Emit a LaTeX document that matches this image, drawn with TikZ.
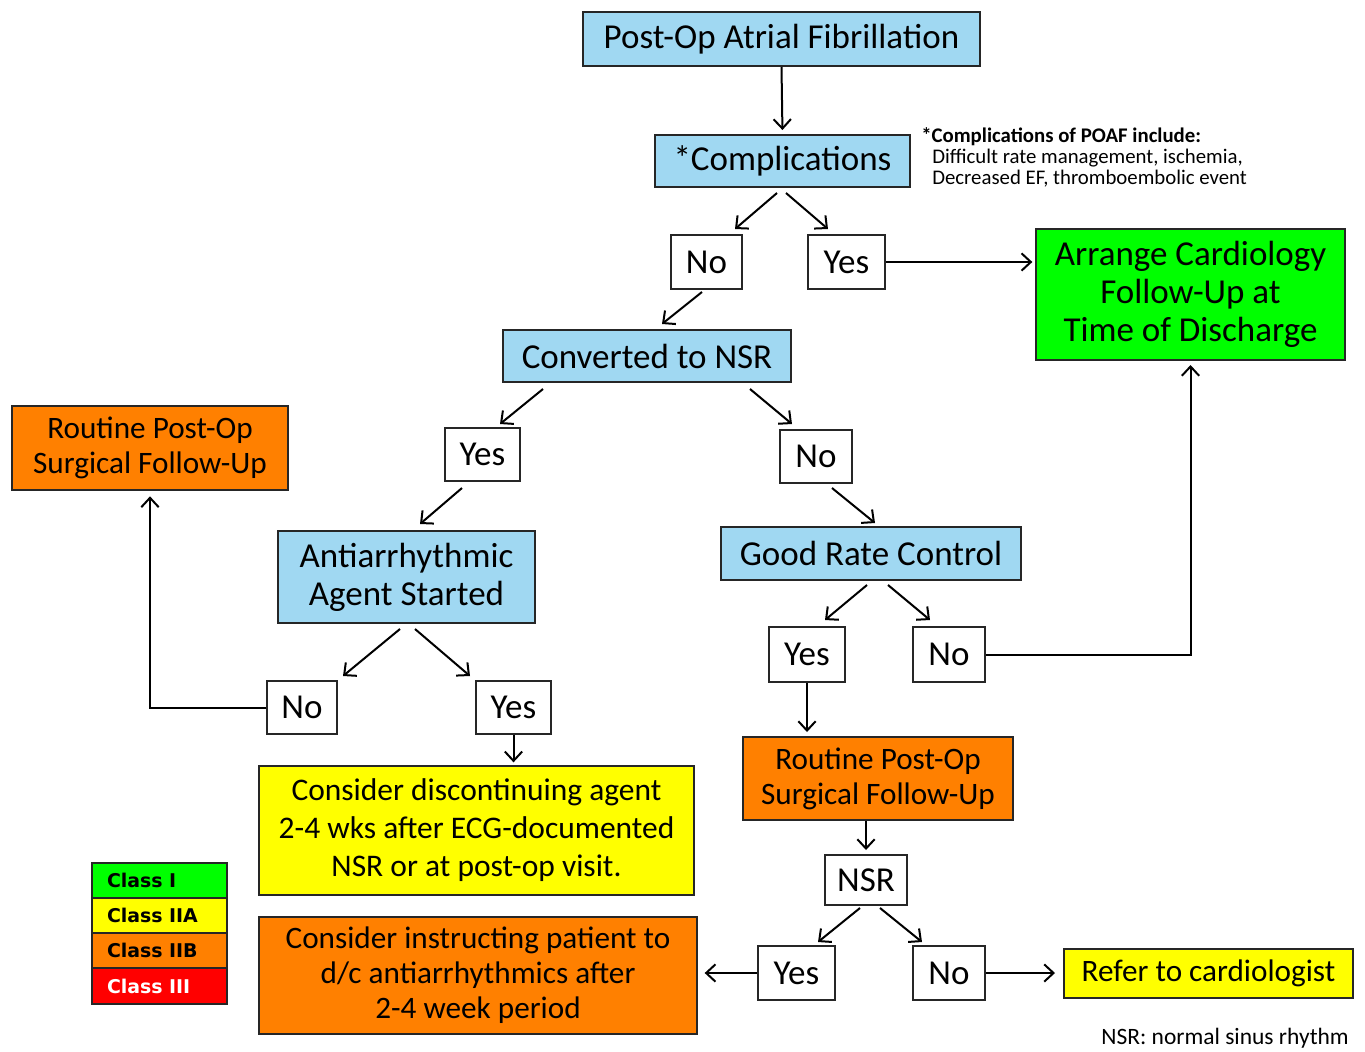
\documentclass[tikz,border=0pt]{standalone}
\usepackage{fontspec}
\setmainfont{Carlito}
\newfontfamily\legendfont{DejaVu Sans}
\usetikzlibrary{arrows.meta,calc}
\definecolor{boxblue}{RGB}{160,216,242}
\definecolor{boxgreen}{RGB}{0,255,0}
\definecolor{boxyellow}{RGB}{255,255,0}
\definecolor{boxorange}{RGB}{255,128,0}
\definecolor{boxred}{RGB}{255,0,0}
\newcommand\SizeL{\fontsize{26.25}{28.5}\selectfont}
\newcommand\SizeM{\fontsize{23.4}{26.25}\selectfont}
\newcommand\SizeY{\fontsize{23.6}{28.5}\selectfont}
\newcommand\SizeS{\fontsize{15.6}{16.2}\selectfont}
\newcommand\SizeF{\fontsize{17.6}{20}\selectfont}
\newcommand\SizeLeg{\fontsize{14.2}{15}\selectfont}
\begin{document}
\begin{tikzpicture}[x=0.75pt,y=-0.75pt,
  box/.style={draw=black!85, line width=1.5pt, inner sep=0pt, align=center},
  wh/.style 2 args={minimum width=#1*0.75pt, minimum height=#2*0.75pt},
  qbox/.style={box, fill=boxblue, font=\SizeL},
  ans/.style={box, fill=white, font=\SizeL},
  legrow/.style={draw=black!85, line width=1.5pt, inner xsep=11.25pt, inner ysep=0pt,
    minimum width=101.25pt, minimum height=26.4pt, text width=78.75pt, align=left,
    font=\legendfont\bfseries\SizeLeg},
  link/.style={line width=1.5pt},
  arr/.style={line width=1.5pt, -{Straight Barb[length=7pt,width=13pt,line width=1.5pt]}}
]
\useasboundingbox (0,0) rectangle (1365,1051);
\fill[white] (0,0) rectangle (1365,1051);

% decision boxes
\node[qbox, wh={397}{54}] (title) at (781.5,39) {Post-Op Atrial Fibrillation};
\node[qbox, wh={255}{52}] (comp) at (782.5,161) {*Complications};
\node[qbox, wh={288}{52}] (conv) at (647,356) {Converted to NSR};
\node[qbox, wh={257}{92}] (anti) at (406.5,577) {Antiarrhythmic\\Agent Started};
\node[qbox, wh={300}{53}] (grc) at (871,553.5) {Good Rate Control};

% answer boxes
\node[ans, wh={71}{54}] (no1) at (706.5,262) {No};
\node[ans, wh={77}{54}] (yes1) at (846.5,262) {Yes};
\node[ans, wh={75}{53}] (yes2) at (482.5,454.5) {Yes};
\node[ans, wh={72}{53}] (no2) at (816,456.5) {No};
\node[ans, wh={76}{55}] (yes3) at (807,654.5) {Yes};
\node[ans, wh={72}{55}] (no3) at (949,654.5) {No};
\node[ans, wh={70}{53}] (no4) at (302,707.5) {No};
\node[ans, wh={75}{53}] (yes4) at (513.5,707.5) {Yes};
\node[ans, wh={82}{50}] (nsr) at (866,880) {NSR};
\node[ans, wh={77}{54}] (yes5) at (796.5,973) {Yes};
\node[ans, wh={72}{54}] (no5) at (949,973) {No};

% outcome boxes
\node[box, fill=boxgreen, font=\SizeL, wh={309}{131}] (arrange) at (1190.5,294.5)
  {\rule{0pt}{4pt}Arrange Cardiology\\Follow-Up at\\Time of Discharge};
\node[box, fill=boxorange, font=\SizeM, wh={276}{84}] (routL) at (150,448)
  {Routine Post-Op\\Surgical Follow-Up};
\node[box, fill=boxorange, font=\SizeM, wh={270}{83}] (routR) at (878,778.5)
  {Routine Post-Op\\Surgical Follow-Up};
\node[box, fill=boxyellow, font=\SizeY, wh={435}{129}] (discont) at (476.5,830.5)
  {Consider discontinuing agent\\2-4 wks after ECG-documented\\NSR or at post-op visit.};
\node[box, fill=boxorange, font=\SizeM, wh={438}{117}] (instruct) at (478,975.5)
  {Consider instructing patient to\\d/c antiarrhythmics after\\2-4 week period};
\node[box, fill=boxyellow, font=\SizeM, wh={289}{49}] (refer) at (1208.5,973.5)
  {Refer to cardiologist};

% complications note
\node[anchor=west, inner sep=0pt, font=\SizeS\bfseries] (note1) at (921,137)
  {*Complications of POAF include:};
\node[anchor=west, inner sep=0pt, font=\SizeS] (note2) at (932,158)
  {Difficult rate management, ischemia,};
\node[anchor=west, inner sep=0pt, font=\SizeS] (note3) at (932,179)
  {Decreased EF, thromboembolic event};

% legend
\node[legrow, fill=boxgreen] (cls1) at (159.5,880.5) {Class I};
\node[legrow, fill=boxyellow] (cls2a) at (159.5,915.5) {Class IIA};
\node[legrow, fill=boxorange] (cls2b) at (159.5,950.5) {Class IIB};
\node[legrow, fill=boxred, text=white] (cls3) at (159.5,986) {Class III};

% footnote
\node[anchor=east, inner sep=0pt, font=\SizeF] (foot) at (1349,1038)
  {NSR: normal sinus rhythm};

% connectors
\draw[arr, shorten >=3pt] (title.south) -- (comp.north);
\draw[arr] ($(comp.south)+(-5.5,5)$) -- ($(no1.north)+(28.5,-5)$);
\draw[arr] ($(comp.south)+(3.5,5)$) -- ($(yes1.north)+(-18.5,-5)$);
\draw[arr] ($(no1.south)+(-4.5,2)$) -- ($(conv.north)+(15,-5)$);
\draw[arr, shorten >=2pt] (yes1.east) -- (arrange.west |- yes1.east);
\draw[arr] ($(conv.south)+(-104,6)$) -- ($(yes2.north)+(17.5,-3)$);
\draw[arr] ($(conv.south)+(103,6)$) -- ($(no2.north)+(-24,-5)$);
\draw[arr] ($(yes2.south)+(-20.5,6)$) -- ($(anti.north)+(13.5,-6)$);
\draw[arr] ($(no2.south)+(16,4)$) -- ($(grc.north)+(4,-3)$);
\draw[arr] ($(anti.south)+(-6.5,5)$) -- ($(no4.north)+(41,-4)$);
\draw[arr] ($(anti.south)+(8.5,5)$) -- ($(yes4.north)+(-43.5,-4)$);
\draw[arr, shorten >=4pt] (no4.west) -- (routL.south |- no4.west) -- (routL.south);
\draw[arr, shorten >=2pt] (yes4.south) -- (yes4.south |- discont.north);
\draw[arr] ($(grc.south)+(-4,4)$) -- ($(yes3.north)+(18,-6)$);
\draw[arr] ($(grc.south)+(17,4)$) -- ($(no3.north)+(-19,-6)$);
\draw[arr, shorten >=3pt] (no3.east) -- (arrange.south |- no3.east) -- (arrange.south);
\draw[arr, shorten >=3pt] (yes3.south) -- (yes3.south |- routR.north);
\draw[arr, shorten >=3pt] (nsr.north |- routR.south) -- (nsr.north);
\draw[arr] ($(nsr.south)+(-6,2)$) -- ($(yes5.north)+(21.5,-3)$);
\draw[arr] ($(nsr.south)+(14,2)$) -- ($(no5.north)+(-27,-3)$);
\draw[arr, shorten >=5pt] (yes5.west) -- (instruct.east |- yes5.west);
\draw[arr, shorten >=6pt] (no5.east) -- (refer.west |- no5.east);
\end{tikzpicture}
\end{document}
